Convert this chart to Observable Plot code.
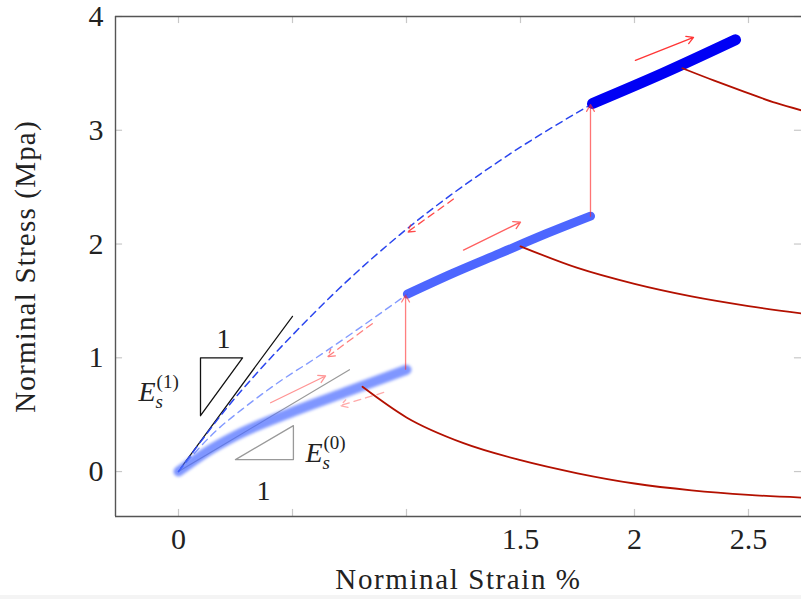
<!DOCTYPE html>
<html><head><meta charset="utf-8">
<script src="https://cdn.jsdelivr.net/npm/d3@7"></script>
<script src="https://cdn.jsdelivr.net/npm/@observablehq/plot@0.6"></script>
<style>
html,body{margin:0;padding:0;background:#f4f4f4;overflow:hidden}
#chart svg{display:block;background:#fff}
</style></head><body><div id="chart"></div>
<script>
// ---- axes ----
const xDomain = [-0.2763, 2.7325];
const yDomain = [-0.395, 4.0];
const xTickValues = [0, 0.5, 1, 1.5, 2, 2.5];
const xTickLabels = ["0", "", "", "1.5", "2", "2.5"];
const yTickValues = [0, 1, 2, 3, 4];
const yTickLabels = ["0", "1", "2", "3", "4"];
const xLabel = "Norminal Strain %";
const yLabel = "Norminal Stress (Mpa)";

// ---- loading branches (thick blue) ----
const seg1X = [0, 0.125, 0.25, 0.5, 0.75, 1.0];
const seg1Y = [0, 0.175, 0.315, 0.525, 0.71, 0.895];
const seg2X = [1.004, 1.2, 1.412, 1.6, 1.807];
const seg2Y = [1.56, 1.74, 1.92, 2.08, 2.245];
const seg3X = [1.816, 2.13, 2.443];
const seg3Y = [3.235, 3.505, 3.795];

// ---- dashed secant paths ----
const dashAX = [0, 0.1, 0.2, 0.35, 0.5, 0.7, 1.0, 1.4, 1.816];
const dashAY = [0, 0.27, 0.53, 0.88, 1.2, 1.6, 2.13, 2.72, 3.235];
const dashBX = [0, 0.15, 0.3, 0.45, 0.6, 0.8, 1.004];
const dashBY = [0, 0.33, 0.58, 0.8, 0.995, 1.27, 1.56];

// ---- unloading curves (dark red) ----
const un1X = [0.807, 1.0, 1.25, 1.5, 1.75, 2.0, 2.25, 2.5, 2.75];
const un1Y = [0.745, 0.476, 0.25, 0.10, -0.015, -0.105, -0.165, -0.205, -0.23];
const un2X = [1.5, 1.75, 2.0, 2.25, 2.5, 2.75];
const un2Y = [1.98, 1.79, 1.65, 1.54, 1.455, 1.385];
const un3X = [2.21, 2.35, 2.48, 2.62, 2.75];
const un3Y = [3.545, 3.436, 3.34, 3.24, 3.165];

// ---- tangent lines & slope triangles ----
const tan1X = [0.01, 0.5];
const tan1Y = [0.03, 1.365];
const tan0X = [0, 0.75];
const tan0Y = [0, 0.895];
const tri1X = [0.0965, 0.281, 0.0965, 0.0965];
const tri1Y = [1.0, 1.0, 0.491, 1.0];
const tri0X = [0.25, 0.504, 0.504, 0.25];
const tri0Y = [0.105, 0.105, 0.404, 0.105];

// ---- arrows: [x1, y1, x2, y2, opacity] ----
const solidArrows = [
  [0.404, 0.605, 0.645, 0.84, 0.5],
  [0.996, 0.9, 0.996, 1.55, 0.6],
  [1.25, 1.947, 1.5, 2.193, 0.75],
  [1.807, 2.245, 1.807, 3.225, 0.65],
  [2.004, 3.614, 2.259, 3.816, 0.95]
];
const dashedArrows = [
  [0.9, 0.695, 0.71, 0.58, 0.4],
  [0.85, 1.30, 0.654, 1.01, 0.6],
  [1.206, 2.395, 1.004, 2.105, 0.85]
];

// ---- annotation labels ----
const oneLabels = [[0.197, 1.088], [0.373, -0.254]];
const eLabels = [
  {x: -0.175, y: 0.623, sup: "(1)"},
  {x: 0.557, y: 0.08, sup: "(0)"}
];

const pts = (xs, ys) => xs.map((x, i) => ({x, y: ys[i]}));
const arr = a => a.map(([x1, y1, x2, y2, o]) => ({x1, y1, x2, y2, o}));
const serif = "Liberation Serif, Times New Roman, serif";
const grey = "#c8c8c8";
const crv = "monotone-x";

const chart = Plot.plot({
  width: 801, height: 595,
  marginLeft: 115, marginRight: 0, marginTop: 16, marginBottom: 79,
  x: {domain: xDomain, axis: null},
  y: {domain: yDomain, axis: null},
  style: {fontFamily: serif, background: "#fff"},
  marks: [
    // tick marks (inside the frame)
    Plot.ruleX(xTickValues, {y1: yDomain[0], y2: yDomain[0] + 0.062, stroke: grey, strokeWidth: 1.2}),
    Plot.ruleX(xTickValues, {y1: yDomain[1], y2: yDomain[1] - 0.062, stroke: grey, strokeWidth: 1.2}),
    Plot.ruleY(yTickValues, {x1: xDomain[0], x2: xDomain[0] + 0.031, stroke: grey, strokeWidth: 1.2}),
    Plot.ruleY(yTickValues, {x1: xDomain[1], x2: xDomain[1] - 0.031, stroke: grey, strokeWidth: 1.2}),
    // frame
    Plot.ruleX([xDomain[0]], {stroke: "#555", strokeWidth: 1.4}),
    Plot.ruleY([yDomain[0], yDomain[1]], {stroke: "#555", strokeWidth: 1.4}),
    // tick labels
    Plot.text(xTickValues, {x: d => d, y: yDomain[0], text: (d, i) => xTickLabels[i], dy: 11, lineAnchor: "top", fontSize: 30, fill: "#222"}),
    Plot.text(yTickValues, {x: xDomain[0], y: d => d, text: (d, i) => yTickLabels[i], dx: -12, textAnchor: "end", lineAnchor: "middle", fontSize: 30, fill: "#222"}),
    // axis titles
    Plot.text([xLabel], {frameAnchor: "bottom", dy: 63, textAnchor: "middle", lineAnchor: "middle", fontSize: 29, fill: "#222", ariaDescription: "xlabel"}),
    Plot.text([yLabel], {frameAnchor: "left", dx: -90, rotate: -90, textAnchor: "middle", lineAnchor: "middle", fontSize: 29, fill: "#222", ariaDescription: "ylabel"}),

    // tangent lines and triangles
    Plot.line(pts(tan1X, tan1Y), {x: "x", y: "y", stroke: "#111", strokeWidth: 1.2}),
    Plot.line(pts(tan0X, tan0Y), {x: "x", y: "y", stroke: "#999", strokeWidth: 1.2}),
    Plot.line(pts(tri1X, tri1Y), {x: "x", y: "y", stroke: "#111", strokeWidth: 1.3}),
    Plot.line(pts(tri0X, tri0Y), {x: "x", y: "y", stroke: "#999", strokeWidth: 1.3}),

    // dashed secant paths
    Plot.line(pts(dashBX, dashBY), {x: "x", y: "y", curve: crv, stroke: "#5a78ff", strokeOpacity: 0.75, strokeWidth: 1.4, strokeDasharray: "7,5"}),
    Plot.line(pts(dashAX, dashAY), {x: "x", y: "y", curve: crv, stroke: "#2a45ee", strokeWidth: 1.5, strokeDasharray: "7,5"}),

    // loading branches
    Plot.line(pts(seg1X, seg1Y), {x: "x", y: "y", curve: crv, stroke: "#4e6eff", strokeOpacity: 0.72, strokeWidth: 10, ariaDescription: "seg1"}),
    Plot.line(pts(seg2X, seg2Y), {x: "x", y: "y", curve: crv, stroke: "#3a55ff", strokeOpacity: 0.9, strokeWidth: 9, ariaDescription: "seg2"}),
    Plot.line(pts(seg3X, seg3Y), {x: "x", y: "y", curve: crv, stroke: "#0000f5", strokeWidth: 11}),

    // unloading curves
    Plot.line(pts(un1X, un1Y), {x: "x", y: "y", curve: crv, stroke: "#b31000", strokeWidth: 1.8, clip: true}),
    Plot.line(pts(un2X, un2Y), {x: "x", y: "y", curve: crv, stroke: "#b31000", strokeWidth: 1.8, clip: true}),
    Plot.line(pts(un3X, un3Y), {x: "x", y: "y", curve: crv, stroke: "#b31000", strokeWidth: 1.8, clip: true}),

    // arrows
    Plot.arrow(arr(solidArrows), {x1: "x1", y1: "y1", x2: "x2", y2: "y2", stroke: "#ff2a2a", strokeOpacity: d => d.o, strokeWidth: 1.3, headLength: 9}),
    Plot.arrow(arr(dashedArrows), {x1: "x1", y1: "y1", x2: "x2", y2: "y2", stroke: "#ff2a2a", strokeOpacity: d => d.o, strokeWidth: 1.3, headLength: 9, strokeDasharray: "7,5"}),

    // annotation labels
    Plot.text(oneLabels, {x: d => d[0], y: d => d[1], text: () => "1", lineAnchor: "bottom", fontSize: 28, fill: "#222"}),
    Plot.text(eLabels, {x: "x", y: "y", text: () => "E", textAnchor: "start", lineAnchor: "bottom", fontSize: 28, fontStyle: "italic", fill: "#222"}),
    Plot.text(eLabels, {x: "x", y: "y", text: () => "s", textAnchor: "start", lineAnchor: "bottom", dx: 17, dy: 7, fontSize: 19, fontStyle: "italic", fill: "#222"}),
    Plot.text(eLabels, {x: "x", y: "y", text: "sup", textAnchor: "start", lineAnchor: "bottom", dx: 18, dy: -13, fontSize: 19, fill: "#222"})
  ]
});

d3.select(chart).selectAll('g[aria-description="seg1"] path').style("filter", "blur(1.4px)");
d3.select(chart).selectAll('g[aria-description="seg2"] path').style("filter", "blur(0.7px)");
d3.select(chart).selectAll('g[aria-description="xlabel"] text').style("letter-spacing", "1.6px");
d3.select(chart).selectAll('g[aria-description="ylabel"] text').style("letter-spacing", "1.2px");
document.getElementById("chart").appendChild(chart);
</script></body></html>
